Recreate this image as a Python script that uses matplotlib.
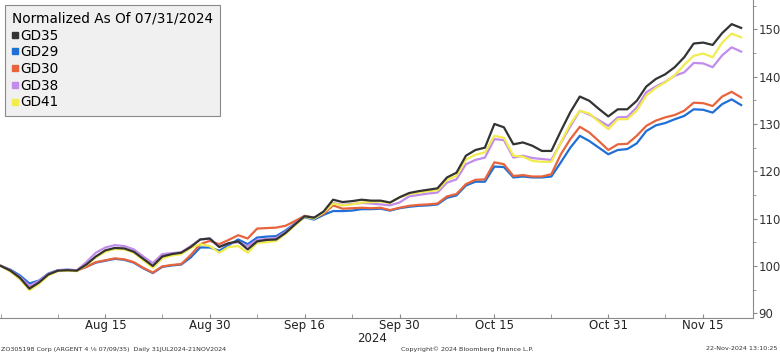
import matplotlib
matplotlib.use("Agg")
import matplotlib.pyplot as plt
from matplotlib.lines import Line2D

series_names = ["GD35", "GD29", "GD30", "GD38", "GD41"]
colors = ["#333333", "#1f6fd6", "#e8643c", "#c18ceb", "#f2ec4e"]

gd35 = [100, 99, 97.5, 95.2, 96.5, 98.2, 99.0, 99.1, 99.0, 100.3, 102.0, 103.3, 103.8, 103.7, 103.0, 101.5,
        100.0, 102.0, 102.5, 102.8, 104.0, 105.6, 105.8, 104.0, 104.8, 105.2, 103.5, 105.2, 105.5, 105.6,
        107.0, 108.8, 110.5, 110.2, 111.5, 114.0, 113.5, 113.7, 114.0, 113.8, 113.8, 113.4, 114.5, 115.4,
        115.8, 116.1, 116.4, 118.7, 119.7, 123.3, 124.5, 125.0, 130.0, 129.3, 125.7, 126.1, 125.4, 124.3,
        124.3, 128.5, 132.5, 135.8, 134.9, 133.2, 131.6, 133.1, 133.1, 134.9, 137.9, 139.5, 140.5, 142.0,
        144.1, 147.0, 147.2, 146.7, 149.2, 151.1, 150.3]
gd29 = [100, 99.2, 98.0, 96.3, 96.9, 98.4, 99.1, 99.2, 99.1, 99.8, 100.7, 101.1, 101.5, 101.3, 100.7, 99.5,
        98.5, 99.8, 100.1, 100.3, 101.8, 103.9, 103.9, 103.2, 104.4, 105.6, 104.6, 106.0, 106.2, 106.3,
        107.5, 109.0, 110.3, 109.8, 110.8, 111.6, 111.6, 111.7, 112.0, 112.0, 112.1, 111.7, 112.2, 112.5,
        112.7, 112.8, 113.0, 114.4, 114.9, 117.0, 117.8, 117.8, 121.0, 120.9, 118.7, 118.9, 118.7, 118.7,
        118.9, 121.9, 125.0, 127.5, 126.4, 125.0, 123.6, 124.5, 124.7, 125.9, 128.5, 129.7, 130.2, 131.0,
        131.7, 133.1, 133.0, 132.4, 134.2, 135.2, 134.0]
gd30 = [100, 99, 97.6, 95.6, 96.6, 98.2, 99.0, 99.1, 99.0, 99.8, 100.8, 101.2, 101.6, 101.4, 100.8, 99.6,
        98.6, 99.9, 100.2, 100.4, 102.3, 104.6, 105.3, 104.6, 105.5, 106.5, 105.8, 107.9, 108.0, 108.1,
        108.5, 109.5, 110.6, 110.2, 111.0, 112.8, 112.1, 112.2, 112.3, 112.2, 112.3, 111.8, 112.3, 112.7,
        112.9, 113.0, 113.2, 114.7, 115.2, 117.3, 118.2, 118.3, 121.9, 121.5, 119.0, 119.2, 118.9, 118.9,
        119.4, 123.6, 126.8, 129.4, 128.2, 126.4, 124.5, 125.7, 125.8, 127.5, 129.6, 130.7, 131.4, 131.9,
        132.8, 134.5, 134.4, 133.8, 135.8, 136.8, 135.6]
gd38 = [100, 99, 97.7, 95.8, 96.8, 98.3, 99.1, 99.2, 99.1, 100.8, 102.8, 103.9, 104.4, 104.2, 103.5, 102.0,
        100.6, 102.5, 102.7, 102.9, 104.2, 105.6, 105.8, 104.1, 104.8, 105.0, 104.2, 105.5, 105.7, 105.9,
        107.2, 108.9, 110.5, 110.1, 111.3, 113.3, 112.9, 113.1, 113.3, 113.2, 113.0, 112.8, 113.4, 114.7,
        115.0, 115.3, 115.5, 117.6, 118.3, 121.5, 122.4, 122.9, 126.8, 126.6, 122.9, 123.3, 122.8, 122.6,
        122.4, 126.0, 129.5, 132.8, 132.0, 130.8, 129.6, 131.4, 131.5, 133.5, 136.7, 137.9, 138.9, 140.2,
        140.9, 142.9, 142.8, 142.0, 144.5, 146.2, 145.3]
gd41 = [100, 98.8, 97.2, 94.9, 96.2, 98.0, 98.9, 99.0, 98.9, 100.2, 101.8, 103.0, 103.6, 103.5, 102.8, 101.2,
        99.6, 101.6, 102.2, 102.5, 103.8, 104.6, 104.2, 102.8, 104.0, 104.2, 102.8, 104.9, 105.0, 105.3,
        106.8, 108.6, 110.4, 110.0, 111.3, 113.2, 112.8, 113.0, 113.4, 113.5, 113.6, 113.3, 114.5, 115.2,
        115.5, 115.8, 116.0, 118.2, 119.0, 122.5, 123.5, 124.0, 127.5, 127.1, 123.3, 123.1, 122.2, 122.0,
        122.0, 126.1, 130.0, 132.8, 132.2, 130.5, 128.9, 131.0, 131.0, 132.8, 136.0, 137.6, 138.8, 140.3,
        142.5, 144.4, 144.9, 144.1, 147.2, 149.1, 148.3]

tick_labels = ["Aug 15", "Aug 30", "Sep 16", "Sep 30", "Oct 15", "Oct 31", "Nov 15"]
label_idx = [11, 22, 32, 42, 52, 64, 74]
mid_idx = [0, 6, 17, 27, 37, 48, 58, 70]
y_ticks = [90, 100, 110, 120, 130, 140, 150]

W, H = 780, 354
fig = plt.figure(figsize=(W / 100, H / 100), dpi=100)
fig.patch.set_facecolor("white")
ax = fig.add_axes([0 / W, 36 / H, 753 / W, 318 / H])
ax.set_facecolor("white")

data = [gd35, gd29, gd30, gd38, gd41]
draw_order = [1, 2, 3, 4, 0]
for k in draw_order:
    ax.plot(range(len(data[k])), data[k], color=colors[k], lw=1.6, solid_joinstyle="round", zorder=3)

ax.set_xlim(-0.1, 79.25)
ax.set_ylim(89.0, 156.2)

for s in ["top", "left"]:
    ax.spines[s].set_visible(False)
ax.spines["bottom"].set_color("#8a8a8a")
ax.spines["right"].set_color("#8a8a8a")
ax.spines["bottom"].set_linewidth(0.8)
ax.spines["right"].set_linewidth(0.8)

ax.yaxis.tick_right()
ax.set_yticks(y_ticks)
ax.set_yticks([95, 105, 115, 125, 135, 145, 155], minor=True)
ax.tick_params(axis="y", which="major", direction="out", length=3, color="#8a8a8a",
               labelsize=8.5, labelcolor="#333333", pad=1)
ax.tick_params(axis="y", which="minor", direction="out", length=2, color="#8a8a8a")

ax.set_xticks(label_idx)
ax.set_xticklabels(tick_labels)
ax.set_xticks(mid_idx, minor=True)
ax.tick_params(axis="x", which="major", direction="in", length=3, color="#8a8a8a",
               labelsize=8.5, labelcolor="#222222", pad=1)
ax.tick_params(axis="x", which="minor", direction="in", length=3, color="#8a8a8a")

fig.text(372 / W, 1 - 338.5 / H, "2024", ha="center", va="center", fontsize=8.5, color="#222222")

fsz = 4.6
fig.text(1 / W, 1 - 349 / H, "ZO305198 Corp (ARGENT 4 \u215b 07/09/35)  Daily 31JUL2024-21NOV2024",
         ha="left", va="center", fontsize=fsz, color="#333333")
fig.text(467 / W, 1 - 349 / H, "Copyright\u00a9 2024 Bloomberg Finance L.P.",
         ha="center", va="center", fontsize=fsz, color="#333333")
fig.text(777 / W, 1 - 349 / H, "22-Nov-2024 13:10:25",
         ha="right", va="center", fontsize=fsz, color="#333333")

handles = [Line2D([], [], ls="none", marker="s", markersize=4.3, color=c) for c in colors]
leg = ax.legend(handles, series_names, title="Normalized As Of 07/31/2024", loc="upper left",
                bbox_to_anchor=(5 / 753, 1 - 5 / 318), fontsize=9.8, title_fontsize=9.8,
                frameon=True, fancybox=False, handlelength=0.5, handletextpad=0.1,
                labelspacing=0.2, borderpad=0.5, borderaxespad=0, alignment="left",
                facecolor="#f0f0f0", edgecolor="#8a8a8a")
leg.get_frame().set_linewidth(0.8)
leg.get_frame().set_alpha(1)
leg.set_zorder(5)

fig.savefig("out.png", dpi=100, facecolor="white")
